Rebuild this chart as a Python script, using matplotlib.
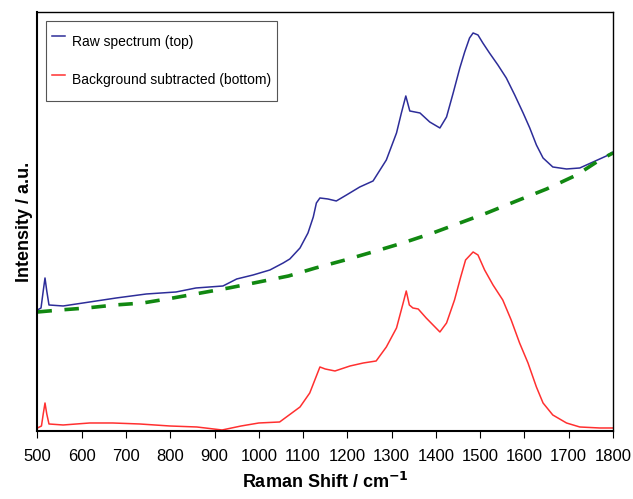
import numpy as np
import matplotlib.pyplot as plt

plt.rcParams["font.family"] = ["Liberation Sans", "DejaVu Sans"]

# raman shift positions and intensities (a.u.) of the three traces
raw_shift = [500, 508, 513, 517, 521, 526, 558, 618, 678, 746, 813, 858, 919,
             950, 987, 1025, 1055, 1070, 1093, 1111, 1123, 1130, 1138, 1156,
             1175, 1198, 1228, 1258, 1288, 1311, 1322, 1332, 1341, 1364, 1386,
             1409, 1424, 1439, 1454, 1465, 1476, 1484, 1495, 1506, 1521, 1540,
             1559, 1578, 1597, 1612, 1627, 1642, 1664, 1695, 1725, 1755, 1785,
             1800]
raw_int = [121, 123, 140, 153, 140, 126, 125, 129, 133, 137, 139, 143, 145,
           152, 156, 161, 168, 172, 183, 198, 214, 228, 233, 232,
           230, 236, 244, 250, 271, 298, 318, 335, 320, 318, 309,
           303, 314, 338, 363, 379, 393, 398, 396, 388, 378, 366,
           353, 336, 318, 303, 286, 273, 264, 262, 263, 269, 275,
           279]

base_shift = [500, 551, 611, 675, 738, 806, 932, 1000, 1067, 1128, 1195, 1257,
              1325, 1393, 1515, 1582, 1650, 1718, 1770, 1800]
base_int = [119, 121, 123, 126, 128, 133, 143, 149, 155, 163, 171, 179,
            188, 198, 218, 230, 242, 256, 271, 278]

sub_shift = [500, 509, 513, 517, 521, 526, 558, 618, 670, 731, 799, 860, 917,
             960, 1000, 1047, 1093, 1115, 1138, 1150, 1172, 1206, 1236, 1265,
             1288, 1311, 1326, 1333, 1340, 1348, 1360, 1378, 1409, 1424, 1442,
             1456, 1467, 1484, 1495, 1510, 1529, 1551, 1570, 1589, 1608, 1627,
             1642, 1664, 1695, 1725, 1770, 1800]
sub_int = [3, 5, 17, 28, 17, 7, 6, 8, 8, 7, 5, 4, 1,
           5, 8, 9, 24, 38, 64, 62, 60, 65, 68, 70,
           84, 103, 128, 140, 126, 123, 122, 113, 99, 108, 131,
           154, 171, 179, 176, 161, 146, 131, 111, 88, 68, 44,
           28, 16, 8, 4, 3, 3]

fig = plt.figure(figsize=(6.33, 4.99), dpi=100)
ax = fig.add_axes([0.0592, 0.1363, 0.9092, 0.8397])

ax.plot(raw_shift, raw_int, color="#2d2d99", lw=1.1, label="Raw spectrum (top)")
ax.plot(sub_shift, sub_int, color="#ff3030", lw=1.1,
        label="Background subtracted (bottom)")
ax.plot(base_shift, base_int, color="#118811", lw=2.6, dashes=(4, 3.5))

ax.set_xlim(500, 1800)
ax.set_ylim(0, 419)
ax.set_xticks(np.arange(500, 1801, 100))
ax.set_yticks([])
ax.tick_params(axis="x", direction="out", length=5, labelsize=12, pad=8)
for side in ax.spines.values():
    side.set_linewidth(1.0)
ax.spines["left"].set_linewidth(1.5)
ax.spines["bottom"].set_linewidth(1.5)

ax.set_xlabel("Raman Shift / cm$^{\\mathbf{-1}}$", fontsize=13,
              fontweight="bold", labelpad=6)
ax.set_ylabel("Intensity / a.u.", fontsize=13, fontweight="bold", labelpad=3)

leg = ax.legend(loc="upper left", bbox_to_anchor=(0.0148, 0.978), fontsize=10,
                handlelength=1.0, handleheight=2.9, handletextpad=0.48,
                labelspacing=0.66, borderpad=0.4, fancybox=False,
                framealpha=1, borderaxespad=0)
leg.get_frame().set_edgecolor("#555555")
leg.get_frame().set_linewidth(0.8)

fig.savefig("out.png", dpi=100)
